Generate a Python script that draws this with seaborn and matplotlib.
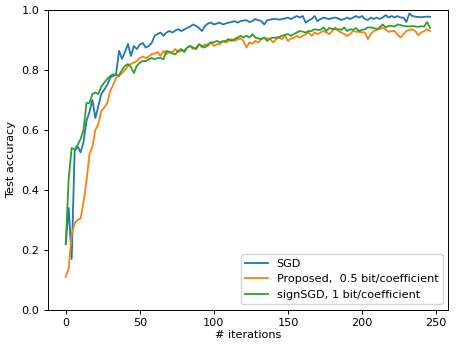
import numpy as np
import pandas as pd
import matplotlib
matplotlib.use("Agg")
import matplotlib.pyplot as plt
import seaborn as sns

iterations = list(range(0, 248, 2))

sgd = [0.22, 0.34, 0.17, 0.53, 0.545, 0.526, 0.56, 0.63, 0.66, 0.70,
       0.64, 0.68, 0.72, 0.735, 0.75, 0.775, 0.78, 0.787, 0.864, 0.837,
       0.86, 0.887, 0.847, 0.88, 0.87, 0.885, 0.89, 0.875, 0.88, 0.89,
       0.914, 0.92, 0.925, 0.914, 0.925, 0.93, 0.925, 0.932, 0.936, 0.93,
       0.935, 0.94, 0.945, 0.952, 0.947, 0.94, 0.93, 0.947, 0.955, 0.958,
       0.952, 0.955, 0.958, 0.952, 0.955, 0.958, 0.96, 0.963, 0.958, 0.963,
       0.965, 0.966, 0.96, 0.963, 0.97, 0.966, 0.963, 0.952, 0.966, 0.968,
       0.97, 0.97, 0.968, 0.97, 0.972, 0.975, 0.97, 0.975, 0.98, 0.975,
       0.98, 0.958, 0.965, 0.97, 0.98, 0.963, 0.97, 0.975, 0.972, 0.97,
       0.973, 0.975, 0.972, 0.967, 0.97, 0.975, 0.97, 0.975, 0.98, 0.975,
       0.98, 0.97, 0.967, 0.975, 0.97, 0.975, 0.97, 0.975, 0.983, 0.975,
       0.98, 0.975, 0.98, 0.975, 0.975, 0.96, 0.989, 0.98, 0.978, 0.977,
       0.976, 0.977, 0.978, 0.977]

proposed = [0.11, 0.14, 0.25, 0.29, 0.30, 0.305, 0.36, 0.43, 0.52, 0.545,
            0.60, 0.62, 0.664, 0.675, 0.69, 0.73, 0.75, 0.775, 0.78, 0.79,
            0.80, 0.814, 0.82, 0.825, 0.83, 0.84, 0.845, 0.84, 0.845, 0.853,
            0.855, 0.86, 0.847, 0.864, 0.853, 0.86, 0.86, 0.87, 0.86, 0.864,
            0.866, 0.875, 0.88, 0.87, 0.875, 0.886, 0.875, 0.886, 0.88, 0.892,
            0.88, 0.886, 0.886, 0.897, 0.892, 0.897, 0.903, 0.897, 0.903, 0.905,
            0.897, 0.875, 0.892, 0.888, 0.897, 0.892, 0.903, 0.908, 0.905, 0.903,
            0.892, 0.903, 0.908, 0.903, 0.914, 0.897, 0.905, 0.908, 0.914, 0.908,
            0.914, 0.92, 0.925, 0.914, 0.925, 0.92, 0.925, 0.93, 0.925, 0.92,
            0.93, 0.942, 0.93, 0.925, 0.92, 0.914, 0.92, 0.93, 0.928, 0.927,
            0.926, 0.925, 0.903, 0.92, 0.93, 0.934, 0.937, 0.941, 0.935, 0.927,
            0.93, 0.93, 0.918, 0.908, 0.92, 0.93, 0.934, 0.936, 0.93, 0.916,
            0.925, 0.93, 0.936, 0.93]

signsgd = [0.22, 0.44, 0.54, 0.535, 0.55, 0.57, 0.60, 0.69, 0.69, 0.72,
           0.725, 0.72, 0.745, 0.758, 0.77, 0.78, 0.786, 0.783, 0.783, 0.80,
           0.814, 0.82, 0.81, 0.79, 0.814, 0.825, 0.83, 0.83, 0.836, 0.84,
           0.836, 0.84, 0.84, 0.836, 0.864, 0.86, 0.855, 0.853, 0.864, 0.87,
           0.86, 0.875, 0.88, 0.875, 0.87, 0.886, 0.88, 0.875, 0.886, 0.892,
           0.892, 0.897, 0.892, 0.895, 0.897, 0.903, 0.897, 0.903, 0.908, 0.914,
           0.908, 0.915, 0.908, 0.92, 0.908, 0.905, 0.903, 0.908, 0.897, 0.905,
           0.908, 0.908, 0.91, 0.914, 0.917, 0.92, 0.914, 0.92, 0.925, 0.93,
           0.928, 0.925, 0.93, 0.93, 0.936, 0.934, 0.934, 0.942, 0.93, 0.94,
           0.937, 0.936, 0.936, 0.934, 0.942, 0.93, 0.936, 0.934, 0.94, 0.93,
           0.934, 0.936, 0.942, 0.942, 0.94, 0.936, 0.942, 0.952, 0.942, 0.947,
           0.947, 0.945, 0.952, 0.95, 0.947, 0.946, 0.945, 0.947, 0.945, 0.944,
           0.946, 0.945, 0.96, 0.94]

labels = ["SGD", "Proposed,  0.5 bit/coefficient", "signSGD, 1 bit/coefficient"]
colors = ["#1f77b4", "#ff7f0e", "#2ca02c"]

plt.rcParams["font.family"] = ["DejaVu Sans"]
plt.rcParams["font.size"] = 8.1
plt.rcParams["axes.linewidth"] = 0.7
plt.rcParams["xtick.major.width"] = 0.7
plt.rcParams["ytick.major.width"] = 0.7
plt.rcParams["xtick.major.size"] = 3.0
plt.rcParams["ytick.major.size"] = 3.0
plt.rcParams["xtick.major.pad"] = 2.8
plt.rcParams["ytick.major.pad"] = 2.8

fig = plt.figure(figsize=(4.57, 3.46), dpi=100)
ax = fig.add_axes([0.104, 0.104, 0.877, 0.867])

for series, lab, col in zip([sgd, proposed, signsgd], labels, colors):
    df = pd.DataFrame({"iter": iterations, "acc": series})
    sns.lineplot(data=df, x="iter", y="acc", ax=ax, color=col, label=lab,
                 linewidth=1.3)

ax.set_ylim(0.0, 1.0)
ax.set_yticks([0.0, 0.2, 0.4, 0.6, 0.8, 1.0])
ax.set_xticks([0, 50, 100, 150, 200, 250])
ax.set_xlabel("# iterations", labelpad=1.5)
ax.set_ylabel("Test accuracy", labelpad=4)
ax.legend(loc="lower right", fontsize=8.1)

fig.savefig("out.png", dpi=100)
